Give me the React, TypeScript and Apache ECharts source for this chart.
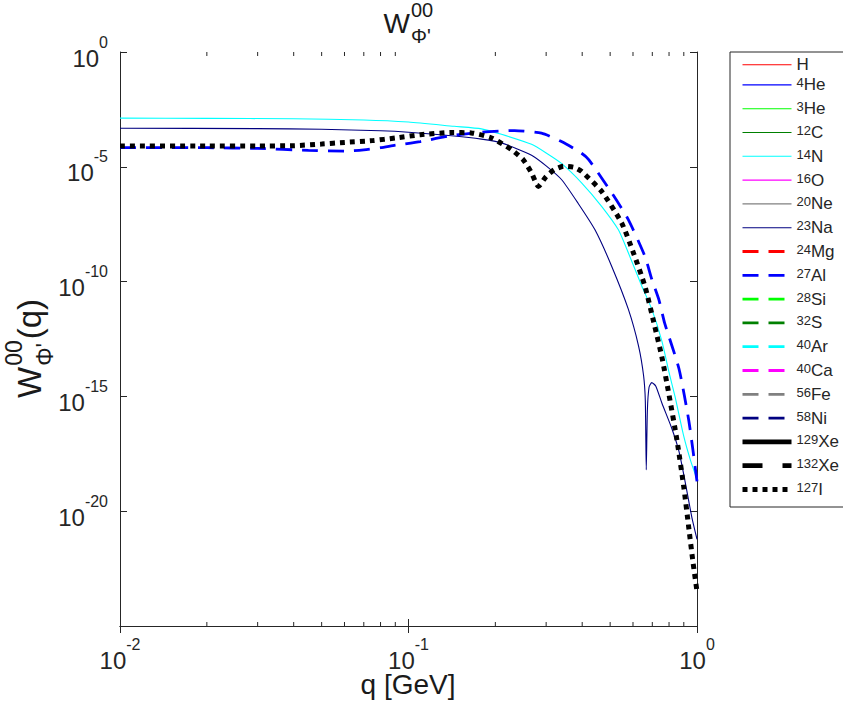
import React, { useEffect, useRef } from 'react';
import * as echarts from 'echarts';

const FONT = '"Liberation Sans", Arial, Helvetica, sans-serif';
const INK = '#262626';

// Legend entries, in the reference's order
const isotopes = ['H', '4He', '3He', '12C', '14N', '16O', '20Ne', '23Na', '24Mg', '27Al', '28Si', '32S', '40Ar', '40Ca', '56Fe', '58Ni', '129Xe', '132Xe', '127I'];
const isotopeColors = ['#ff0000', '#0000ff', '#00ff00', '#008000', '#00ffff', '#ff00ff', '#808080', '#000080',
  '#ff0000', '#0000ff', '#00ff00', '#008000', '#00ffff', '#ff00ff', '#808080', '#000080',
  '#000000', '#000000', '#000000'];

// q [GeV] and W values of the curves that are non-zero
const qN14 = [0.01, 0.02, 0.04, 0.07, 0.1, 0.144, 0.179, 0.21, 0.267, 0.3, 0.339, 0.398, 0.467, 0.534, 0.578, 0.644, 0.697, 0.756, 0.8, 0.839, 0.9, 0.95, 1.0];
const wN14 = [1.32e-3, 1.29e-3, 1.23e-3, 1.1e-3, 8.9e-4, 5.8e-4, 4.5e-4, 2.6e-4, 9.5e-5, 4.0e-5, 1.4e-5, 2.0e-6, 1.9e-7, 1.8e-8, 1.8e-9, 6.3e-11, 6.3e-12, 2.5e-13, 1.1e-14, 1.0e-15, 1.8e-17, 1.6e-18, 2.5e-19];

const qNa23 = [0.01, 0.03, 0.05, 0.08, 0.1, 0.144, 0.179, 0.21, 0.267, 0.3, 0.339, 0.387, 0.443, 0.506, 0.578, 0.627, 0.653, 0.662, 0.667, 0.673, 0.682, 0.697, 0.72, 0.756, 0.818, 0.866, 0.909, 0.961, 1.0];
const wNa23 = [4.8e-4, 4.6e-4, 4.3e-4, 3.7e-4, 3.2e-4, 2.2e-4, 1.6e-4, 1.1e-4, 3.2e-5, 1.1e-5, 2.8e-6, 2.6e-7, 1.8e-8, 4.7e-10, 6.3e-12, 1.6e-13, 7.9e-15, 6.3e-16, 6.3e-19, 2.5e-16, 2.5e-15, 4.0e-15, 2.8e-15, 5.0e-16, 4.0e-17, 4.0e-18, 2.0e-19, 5.0e-21, 6.0e-22];

const qAl27 = [0.01, 0.02, 0.03, 0.045, 0.06, 0.07, 0.08, 0.09, 0.11, 0.141, 0.179, 0.233, 0.289, 0.339, 0.398, 0.422, 0.506, 0.578, 0.66, 0.697, 0.738, 0.772, 0.866, 0.938, 1.0];
const wAl27 = [6.9e-5, 6.8e-5, 6.3e-5, 5.2e-5, 4.8e-5, 5.5e-5, 6.8e-5, 8.7e-5, 1.26e-4, 2.3e-4, 3.2e-4, 3.8e-4, 2.9e-4, 1.26e-4, 3.9e-5, 2.0e-5, 7.4e-7, 5.0e-8, 1.26e-9, 1.26e-10, 1.6e-11, 1.6e-12, 1.6e-14, 7.9e-17, 2.0e-19];

const qI127 = [0.01, 0.02, 0.03, 0.04, 0.05, 0.06, 0.075, 0.09, 0.11, 0.141, 0.165, 0.194, 0.228, 0.25, 0.267, 0.282, 0.3, 0.32, 0.345, 0.375, 0.398, 0.467, 0.548, 0.602, 0.66, 0.714, 0.756, 0.799, 0.852, 0.901, 0.938, 0.968, 1.0];
const wI127 = [8.1e-5, 8.1e-5, 8.1e-5, 8.3e-5, 9.8e-5, 1.15e-4, 1.38e-4, 1.8e-4, 2.5e-4, 3.1e-4, 3.0e-4, 1.8e-4, 5.5e-5, 2.0e-5, 5.4e-6, 1.4e-6, 3.8e-6, 7.4e-6, 1.05e-5, 9.5e-6, 6.3e-6, 8.5e-7, 3.6e-8, 1.8e-9, 6.3e-11, 1.1e-12, 5.0e-14, 1.26e-15, 1.26e-17, 1.0e-19, 1.6e-21, 6.3e-23, 3.2e-24];

// Minor tick positions of the q axis
const xMinorTicks = [0.02, 0.03, 0.04, 0.05, 0.06, 0.07, 0.08, 0.09, 0.2, 0.3, 0.4, 0.5, 0.6, 0.7, 0.8, 0.9];

const curveData: Record<string, [number[], number[]]> = {
  '14N': [qN14, wN14],
  '23Na': [qNa23, wNa23],
  '27Al': [qAl27, wAl27],
  '127I': [qI127, wI127],
};

function lineStyleFor(i: number) {
  const color = isotopeColors[i];
  if (i < 8) return { color, width: 1.1, type: 'solid' as any };
  if (i < 16) return { color, width: 2.8, type: [16, 10] as any };
  if (i === 16) return { color, width: 4.8, type: 'solid' as any };
  if (i === 17) return { color, width: 4.8, type: [20, 20] as any };
  return { color, width: 5, type: [5, 5] as any };
}

function expLabel(v: number) {
  const e = Math.round(Math.log10(v));
  return `{b|10}{e|${e}}`;
}

const tickRich = {
  b: { fontSize: 24, lineHeight: 36, fontFamily: FONT, color: INK, verticalAlign: 'bottom' },
  e: { fontSize: 16, lineHeight: 16, fontFamily: FONT, color: INK, verticalAlign: 'top' },
};

// stacked super/subscript label "W^00_Φ'"
function wLabel(x0: number, s: number, withQ: boolean) {
  const ss = Math.round(s * 0.7);
  const wW = 0.944 * s;
  const supW = 2 * 0.556 * ss;
  const els: any[] = [
    { type: 'text', x: x0, y: 0, style: { text: 'W', font: `${s}px ${FONT}`, fill: '#1a1a1a', textAlign: 'left', textVerticalAlign: 'middle' } },
    { type: 'text', x: x0 + wW + 1, y: -s * 0.45, style: { text: '00', font: `${ss}px ${FONT}`, fill: '#1a1a1a', textAlign: 'left', textVerticalAlign: 'middle' } },
    { type: 'text', x: x0 + wW + 1, y: s * 0.47, style: { text: "\u03A6'", font: `${ss}px ${FONT}`, fill: '#1a1a1a', textAlign: 'left', textVerticalAlign: 'middle' } },
  ];
  if (withQ) {
    els.push({ type: 'text', x: x0 + wW + supW + 2, y: 0, style: { text: '(q)', font: `${s}px ${FONT}`, fill: '#1a1a1a', textAlign: 'left', textVerticalAlign: 'middle' } });
  }
  return els;
}

export default function App() {
  const ref = useRef<HTMLDivElement>(null);
  useEffect(() => {
    if (!ref.current) return;
    const chart = echarts.init(ref.current, undefined, { renderer: 'svg' });

    const lineSeries = isotopes.map((name, i) => {
      const d = curveData[name];
      const data = d ? d[0].map((q, k) => [q, d[1][k]]) : [];
      const ls = lineStyleFor(i);
      return {
        name,
        type: 'line',
        xAxisIndex: 0,
        yAxisIndex: 0,
        data,
        symbol: 'none',
        showSymbol: false,
        smooth: 0.2,
        lineStyle: ls,
        itemStyle: { color: ls.color },
        silent: true,
      };
    });

    const minorTickSeries = {
      name: 'minorTicks',
      type: 'custom',
      xAxisIndex: 0,
      yAxisIndex: 0,
      silent: true,
      z: 20,
      data: xMinorTicks.map((q) => [q, 1e-12]),
      renderItem: (params: any, api: any) => {
        const q = api.value(0);
        const b = api.coord([q, 1e-25]);
        const t = api.coord([q, 1]);
        return {
          type: 'group',
          children: [
            { type: 'line', shape: { x1: b[0], y1: b[1], x2: b[0], y2: b[1] - 4 }, style: { stroke: INK, lineWidth: 1 } },
            { type: 'line', shape: { x1: t[0], y1: t[1], x2: t[0], y2: t[1] + 4 }, style: { stroke: INK, lineWidth: 1 } },
          ],
        };
      },
    };

    const axisCommon = {
      axisLine: { show: true, lineStyle: { color: INK, width: 1 } },
      axisTick: { show: true, inside: true, length: 7, lineStyle: { color: INK, width: 1 } },
      splitLine: { show: false },
    };

    const option: any = {
      animation: false,
      backgroundColor: '#ffffff',
      grid: { left: 120, right: 146, top: 52, bottom: 76, containLabel: false, outerBoundsMode: 'none' },
      xAxis: [
        {
          type: 'log', logBase: 10, min: 0.01, max: 1, position: 'bottom',
          ...axisCommon,
          axisLabel: { show: true, margin: 10, formatter: expLabel, rich: tickRich },
        },
        {
          type: 'log', logBase: 10, min: 0.01, max: 1, position: 'top',
          ...axisCommon,
          axisLabel: { show: false },
        },
      ],
      yAxis: [
        {
          type: 'log', logBase: 10, min: 1e-25, max: 1, interval: 5, position: 'left',
          ...axisCommon,
          axisLabel: { show: true, margin: 12, formatter: expLabel, rich: tickRich },
        },
        {
          type: 'log', logBase: 10, min: 1e-25, max: 1, interval: 5, position: 'right',
          ...axisCommon,
          axisLabel: { show: false },
        },
      ],
      legend: {
        data: isotopes,
        orient: 'vertical',
        left: 730,
        top: 52,
        itemWidth: 49,
        itemHeight: 22,
        itemGap: 2.5,
        padding: [4, 5, 5, 10],
        borderColor: INK,
        borderWidth: 1,
        borderRadius: 0,
        backgroundColor: '#ffffff',
        selectedMode: false,
        itemStyle: { opacity: 0 },
        lineStyle: { width: 'inherit', type: 'inherit' },
        formatter: (name: string) => {
          const m = name.match(/^(\d*)(.*)$/) as RegExpMatchArray;
          return m[1] ? `{s|${m[1]}}{b|${m[2]}}` : `{b|${m[2]}}`;
        },
        textStyle: {
          fontFamily: FONT,
          color: INK,
          rich: {
            b: { fontSize: 17, lineHeight: 17, fontFamily: FONT, color: INK, verticalAlign: 'bottom' },
            s: { fontSize: 13, lineHeight: 14, fontFamily: FONT, color: INK, verticalAlign: 'top', padding: [0, 0, 8, 0] },
          },
        },
      },
      graphic: [
        { type: 'group', x: 408 - 24.5, y: 23, children: wLabel(0, 28, false) },
        { type: 'group', x: 29, y: 336, rotation: Math.PI / 2, children: wLabel(-62, 33, true) },
        {
          type: 'text', x: 408, y: 684,
          style: { text: 'q [GeV]', font: `28px ${FONT}`, fill: '#1a1a1a', textAlign: 'center', textVerticalAlign: 'middle' },
        },
      ],
      series: [...lineSeries, minorTickSeries],
    };

    chart.setOption(option);
    return () => chart.dispose();
  }, []);

  return <div ref={ref} style={{ position: 'absolute', left: 0, top: 0, width: 843, height: 702 }} />;
}
